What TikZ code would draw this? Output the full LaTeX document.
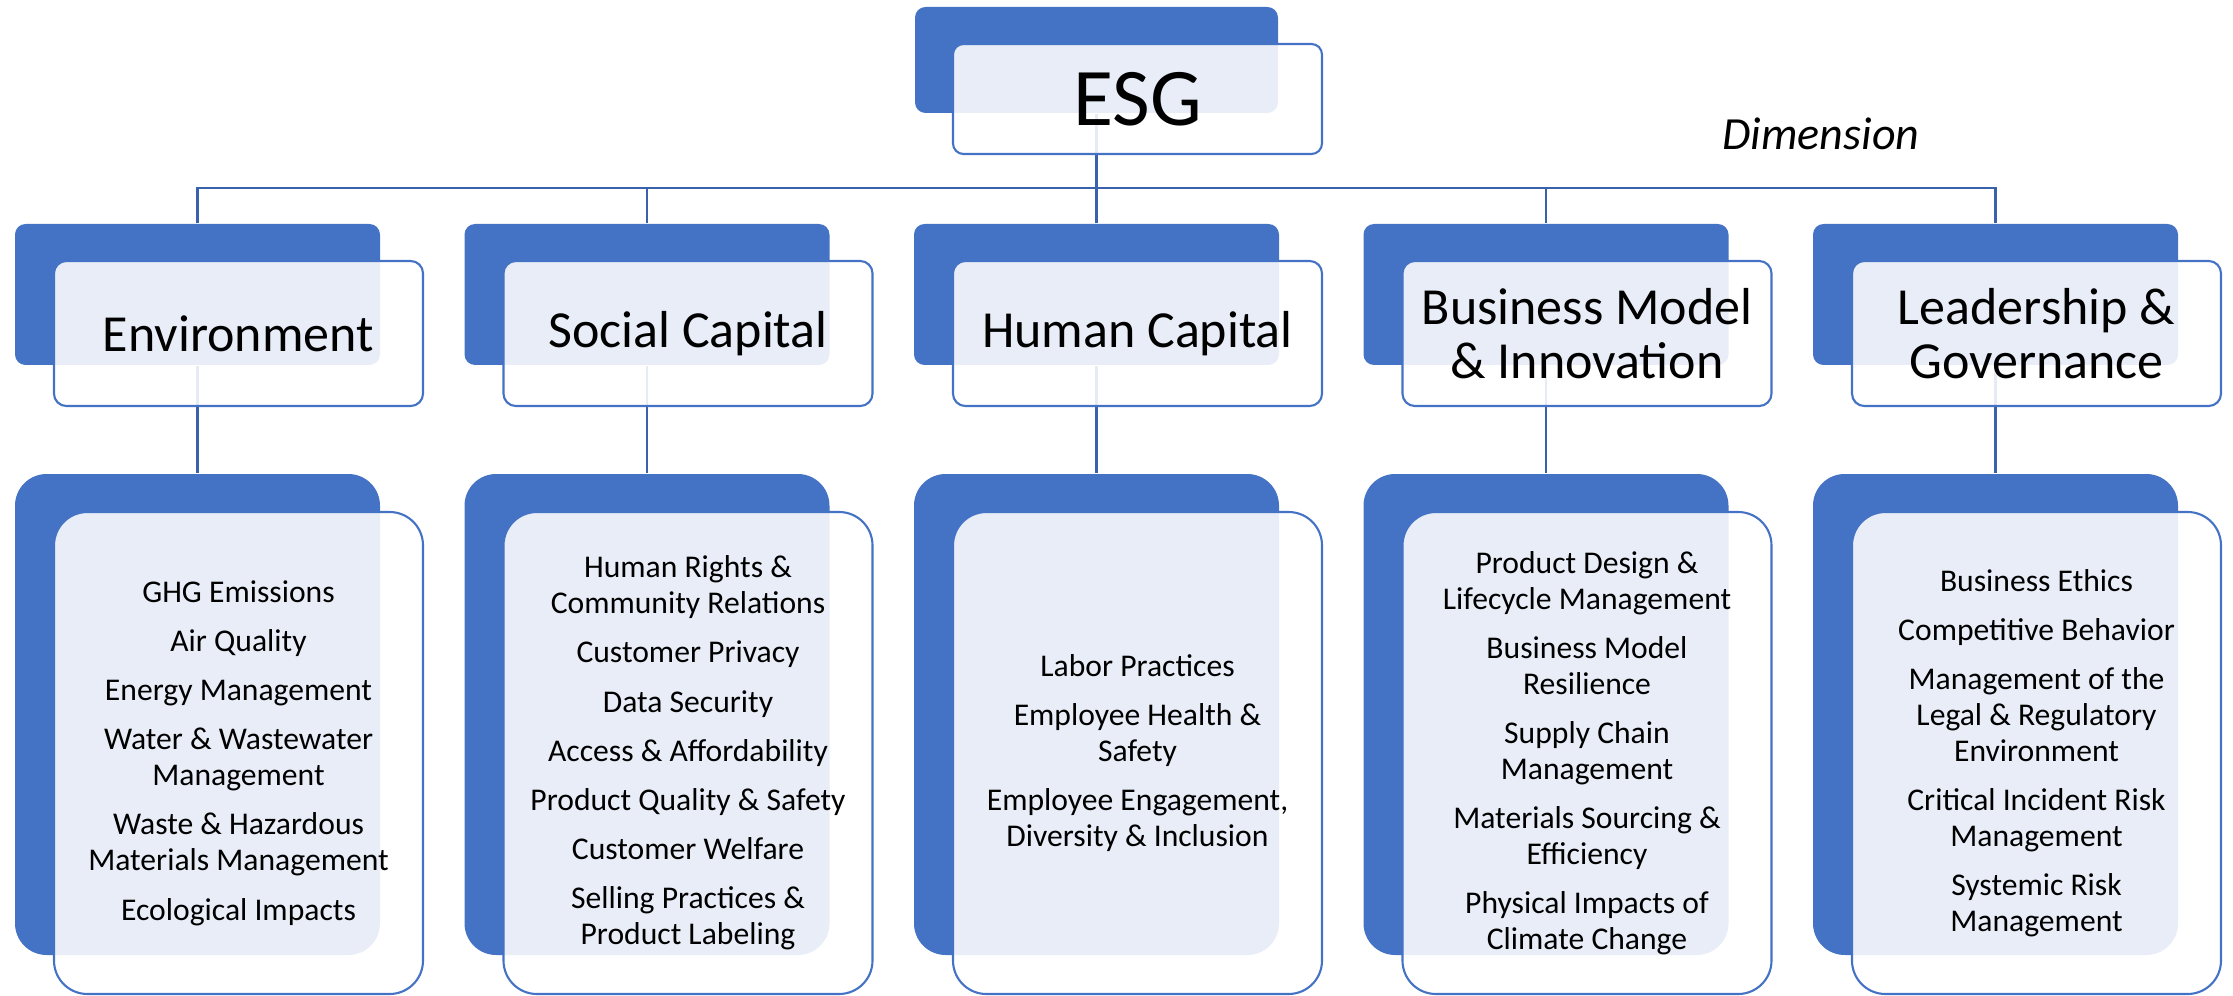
\documentclass[tikz,border=0pt]{standalone}
\usepackage{fontspec}
\setmainfont{Carlito}
\usetikzlibrary{calc}

\definecolor{esgblue}{RGB}{68,114,196}
\definecolor{esgline}{RGB}{58,98,172}

\tikzset{
  backroot/.style = {rectangle, fill=esgblue, rounded corners=3pt, minimum width=3.63cm, minimum height=1.06cm},
  frontroot/.style = {rectangle, draw=esgblue, line width=0.6pt, fill=white, fill opacity=0.88, text opacity=1, rounded corners=3pt, minimum width=3.69cm, minimum height=1.10cm, font=\fontsize{23.3}{26}\selectfont},
  backdim/.style = {rectangle, fill=esgblue, rounded corners=3pt, minimum width=3.65cm, minimum height=1.41cm},
  frontdim/.style = {rectangle, draw=esgblue, line width=0.6pt, fill=white, fill opacity=0.88, text opacity=1, rounded corners=3.5pt, minimum width=3.69cm, minimum height=1.45cm, align=center, font=\fontsize{14.8}{15.2}\selectfont},
  backlist/.style = {rectangle, fill=esgblue, rounded corners=9pt, minimum width=3.65cm, minimum height=4.81cm},
  frontlist/.style = {rectangle, draw=esgblue, line width=0.6pt, fill=white, fill opacity=0.88, text opacity=1, rounded corners=9.5pt, minimum width=3.69cm, minimum height=4.82cm, align=center, font=\fontsize{9}{10.2}\selectfont},
  link/.style = {draw=esgline, line width=0.75pt}
}

\begin{document}
\begin{tikzpicture}
    \useasboundingbox (0,0) rectangle (22.33,-9.96);

    \node [backroot] (esgB) at (10.965,-0.60) {};

    \node [backdim] (envB) at (1.975,-2.945) {};
    \node [backdim] (socB) at (6.47,-2.945) {};
    \node [backdim] (humB) at (10.965,-2.945) {};
    \node [backdim] (busB) at (15.46,-2.945) {};
    \node [backdim] (govB) at (19.955,-2.945) {};

    \node [backlist] (envLB) at (1.975,-7.145) {};
    \node [backlist] (socLB) at (6.47,-7.145) {};
    \node [backlist] (humLB) at (10.965,-7.145) {};
    \node [backlist] (busLB) at (15.46,-7.145) {};
    \node [backlist] (govLB) at (19.955,-7.145) {};

    \coordinate (rail) at (0,-1.88);

    \draw [link] (esgB.south) -- (esgB.south |- rail);
    \draw [link] (envB.north) -- (envB.north |- rail) -- (govB.north |- rail) -- (govB.north);
    \draw [link] (socB.north) -- (socB.north |- rail);
    \draw [link] (humB.north) -- (humB.north |- rail);
    \draw [link] (busB.north) -- (busB.north |- rail);

    \draw [link] (envB.south) -- (envLB.north);
    \draw [link] (socB.south) -- (socLB.north);
    \draw [link] (humB.south) -- (humLB.north);
    \draw [link] (busB.south) -- (busLB.north);
    \draw [link] (govB.south) -- (govLB.north);

    \node [frontroot] (esg) at (11.375,-0.99) {ESG};
    \node [font=\itshape\fontsize{13.1}{15}\selectfont] (dim) at (18.21,-1.34) {Dimension};

    \node [frontdim] (env) at (2.385,-3.335) {Environment};
    \node [frontdim] (soc) at (6.88,-3.335) {Social Capital};
    \node [frontdim] (hum) at (11.375,-3.335) {Human Capital};
    \node [frontdim] (bus) at (15.87,-3.335) {Business Model\\\& Innovation};
    \node [frontdim] (gov) at (20.365,-3.335) {Leadership \&\\Governance};

    \node [frontlist] (envL) at (2.385,-7.53) {GHG Emissions\\[3.8pt]Air Quality\\[3.8pt]Energy Management\\[3.8pt]Water \& Wastewater\\Management\\[3.8pt]Waste \& Hazardous\\Materials Management\\[3.8pt]Ecological Impacts};
    \node [frontlist] (socL) at (6.88,-7.53) {Human Rights \&\\Community Relations\\[3.8pt]Customer Privacy\\[3.8pt]Data Security\\[3.8pt]Access \& Affordability\\[3.8pt]Product Quality \& Safety\\[3.8pt]Customer Welfare\\[3.8pt]Selling Practices \&\\Product Labeling};
    \node [frontlist] (humL) at (11.375,-7.53) {Labor Practices\\[3.8pt]Employee Health \&\\Safety\\[3.8pt]Employee Engagement,\\Diversity \& Inclusion};
    \node [frontlist] (busL) at (15.87,-7.53) {Product Design \&\\Lifecycle Management\\[3.8pt]Business Model\\Resilience\\[3.8pt]Supply Chain\\Management\\[3.8pt]Materials Sourcing \&\\Efficiency\\[3.8pt]Physical Impacts of\\Climate Change};
    \node [frontlist] (govL) at (20.365,-7.53) {Business Ethics\\[3.8pt]Competitive Behavior\\[3.8pt]Management of the\\Legal \& Regulatory\\Environment\\[3.8pt]Critical Incident Risk\\Management\\[3.8pt]Systemic Risk\\Management};
\end{tikzpicture}
\end{document}
